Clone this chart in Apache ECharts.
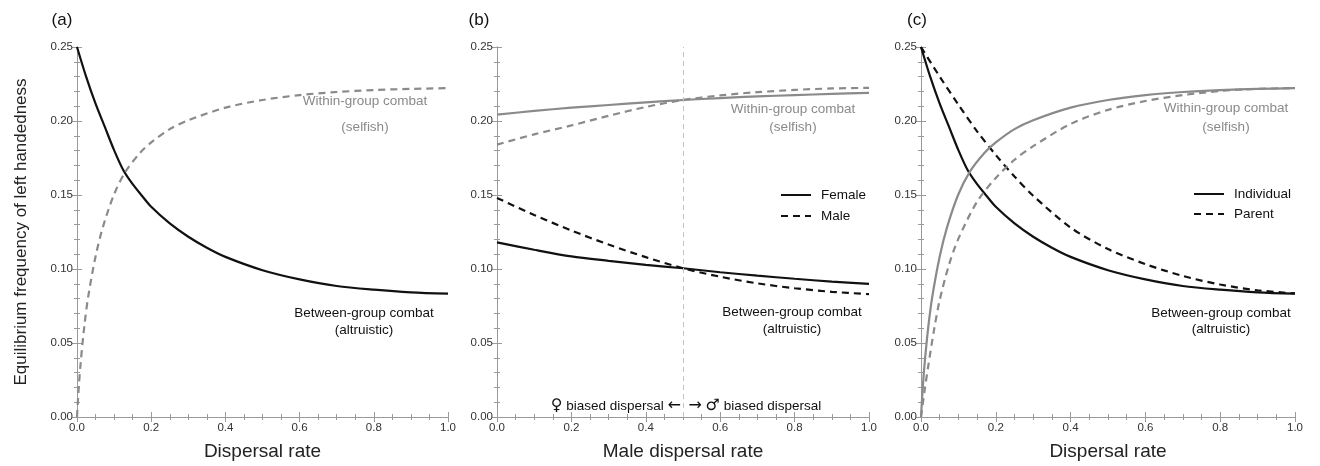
<!DOCTYPE html>
<html>
<head>
<meta charset="utf-8">
<script src="https://cdn.jsdelivr.net/npm/echarts@6/dist/echarts.min.js"></script>
<style>
  html, body { margin: 0; padding: 0; background: #fff; }
  #main { width: 1320px; height: 466px; }
</style>
</head>
<body>
<div id="main"></div>
<script>
// x tick labels / y tick labels
var xTicks = [0, 0.2, 0.4, 0.6, 0.8, 1.0];
var yTicks = [0, 0.05, 0.1, 0.15, 0.2, 0.25];

// panel (a) and (c): individual-level curves
var xsBetweenInd = [0, 0.025, 0.05, 0.075, 0.1, 0.125, 0.15, 0.175, 0.2, 0.25, 0.3, 0.35, 0.4, 0.5, 0.6, 0.7, 0.8, 0.9, 1.0];
var betweenInd = [0.25, 0.2296, 0.2117, 0.196, 0.1803, 0.1667, 0.1573, 0.1495, 0.142, 0.1308, 0.1218, 0.1144, 0.1082, 0.0992, 0.093, 0.0885, 0.086, 0.0842, 0.0833];

var xsWithinInd = [0, 0.005, 0.01, 0.02, 0.03, 0.05, 0.07, 0.1, 0.13, 0.17, 0.2, 0.25, 0.3, 0.4, 0.5, 0.6, 0.7, 0.8, 0.9, 1.0];
var withinInd = [0, 0.021, 0.037, 0.062, 0.081, 0.1085, 0.1285, 0.1505, 0.1655, 0.1785, 0.1855, 0.1945, 0.2005, 0.209, 0.2142, 0.2175, 0.2196, 0.2209, 0.2217, 0.2222];

// panel (c): parent-level curves
var xsBetweenPar = [0, 0.05, 0.1, 0.15, 0.2, 0.25, 0.3, 0.4, 0.5, 0.6, 0.7, 0.8, 0.9, 1.0];
var betweenPar = [0.25, 0.230, 0.211, 0.193, 0.177, 0.1625, 0.1495, 0.128, 0.1135, 0.1033, 0.0953, 0.0895, 0.0856, 0.0835];

var xsWithinPar = [0, 0.01, 0.02, 0.035, 0.05, 0.075, 0.1, 0.15, 0.2, 0.25, 0.3, 0.4, 0.5, 0.6, 0.7, 0.8, 0.9, 1.0];
var withinPar = [0, 0.0185, 0.0355, 0.059, 0.079, 0.103, 0.1205, 0.1455, 0.1615, 0.1738, 0.183, 0.198, 0.2075, 0.2135, 0.2175, 0.2203, 0.2217, 0.2222];

// panel (b): male dispersal rate
var xsMale = [0, 0.1, 0.2, 0.3, 0.4, 0.5, 0.6, 0.7, 0.8, 0.9, 1.0];
var withinFemale = [0.2043, 0.2068, 0.209, 0.2108, 0.2126, 0.2142, 0.2155, 0.2166, 0.2175, 0.2183, 0.219];
var withinMale = [0.184, 0.191, 0.197, 0.2035, 0.2095, 0.2142, 0.2173, 0.2195, 0.221, 0.222, 0.2224];
var betweenFemale = [0.118, 0.113, 0.1085, 0.1055, 0.1028, 0.1005, 0.0978, 0.0955, 0.0934, 0.0915, 0.090];
var betweenMale = [0.148, 0.1365, 0.126, 0.1165, 0.108, 0.1005, 0.0948, 0.0903, 0.087, 0.0846, 0.083];

var BLACK = '#111';
var GREY = '#8a8a8a';
var FRAME = '#9a9a9a';
var FONT = 'Liberation Sans, Arial, sans-serif';
var DASH = [7, 5];

function pairs(xs, ys) {
  return xs.map(function (x, i) { return [x, ys[i]]; });
}

var grids = [
  { left: 77, top: 47, width: 371, height: 372 },
  { left: 497, top: 47, width: 372, height: 372 },
  { left: 921, top: 47, width: 374, height: 372 }
];

var xAxes = [];
var yAxes = [];
var xNames = ['Dispersal rate', 'Male dispersal rate', 'Dispersal rate'];
for (var g = 0; g < 3; g++) {
  xAxes.push({
    type: 'value', gridIndex: g, min: 0, max: 1, interval: 0.2,
    name: xNames[g], nameLocation: 'middle', nameGap: 25,
    nameTextStyle: { fontSize: 19, color: '#222', fontFamily: FONT },
    axisLine: { lineStyle: { color: FRAME } },
    axisTick: { inside: true, length: 5, lineStyle: { color: FRAME } },
    minorTick: { show: true, splitNumber: 4, length: 3, lineStyle: { color: FRAME } },
    splitLine: { show: false },
    axisLabel: { fontSize: 11.5, color: '#333', margin: 5, fontFamily: FONT,
      formatter: function (v) { return v.toFixed(1); } }
  });
  yAxes.push({
    type: 'value', gridIndex: g, min: 0, max: 0.25, interval: 0.05,
    name: g === 0 ? 'Equilibrium frequency of left handedness' : '',
    nameLocation: 'middle', nameGap: 47,
    nameTextStyle: { fontSize: 17, color: '#222', fontFamily: FONT },
    axisLine: { show: true, lineStyle: { color: FRAME } },
    axisTick: { show: true, inside: true, length: 5, lineStyle: { color: FRAME } },
    minorTick: { show: true, splitNumber: 5, length: 3, lineStyle: { color: FRAME } },
    splitLine: { show: false },
    axisLabel: { fontSize: 11.5, color: '#333', margin: 4, fontFamily: FONT,
      formatter: function (v) { return v.toFixed(2); } }
  });
}
// mirrored frame axes (top / right)
for (var h = 0; h < 3; h++) {
  xAxes.push({
    type: 'value', gridIndex: h, position: 'top', min: 0, max: 1, interval: 0.2,
    axisLine: { lineStyle: { color: FRAME } },
    axisTick: { inside: true, length: 5, lineStyle: { color: FRAME } },
    minorTick: { show: true, splitNumber: 4, length: 3, lineStyle: { color: FRAME } },
    splitLine: { show: false }, axisLabel: { show: false }
  });
  yAxes.push({
    type: 'value', gridIndex: h, position: 'right', min: 0, max: 0.25, interval: 0.05,
    axisLine: { show: true, lineStyle: { color: FRAME } },
    axisTick: { show: true, inside: true, length: 5, lineStyle: { color: FRAME } },
    minorTick: { show: true, splitNumber: 5, length: 3, lineStyle: { color: FRAME } },
    splitLine: { show: false }, axisLabel: { show: false }
  });
}

function curve(name, idx, xs, ys, color, dashed, extra) {
  var s = {
    name: name, type: 'line', xAxisIndex: idx, yAxisIndex: idx,
    data: pairs(xs, ys), smooth: 0.3,
    symbol: 'none', showSymbol: false, silent: true,
    lineStyle: { color: color, width: 2.2, type: dashed ? DASH : 'solid' },
    itemStyle: { color: color }
  };
  if (extra) { for (var k in extra) s[k] = extra[k]; }
  return s;
}

var series = [
  // (a)
  curve('Between-group', 0, xsBetweenInd, betweenInd, BLACK, false),
  curve('Within-group', 0, xsWithinInd, withinInd, GREY, true),
  // (b)  black first so the legend takes the black style
  curve('Female', 1, xsMale, betweenFemale, BLACK, false, {
    markLine: {
      silent: true, symbol: 'none', label: { show: false },
      lineStyle: { color: '#c4c4c4', width: 1, type: [5, 4] },
      data: [{ xAxis: 0.5 }]
    }
  }),
  curve('Male', 1, xsMale, betweenMale, BLACK, true),
  curve('Female', 1, xsMale, withinFemale, GREY, false),
  curve('Male', 1, xsMale, withinMale, GREY, true),
  // (c)
  curve('Individual', 2, xsBetweenInd, betweenInd, BLACK, false),
  curve('Parent', 2, xsBetweenPar, betweenPar, BLACK, true),
  curve('Individual', 2, xsWithinInd, withinInd, GREY, false),
  curve('Parent', 2, xsWithinPar, withinPar, GREY, true)
];

function txt(x, y, s, color, size, rich) {
  var st = { text: s, fill: color || '#111', fontSize: size || 13.5, fontFamily: FONT,
    align: 'center', verticalAlign: 'middle' };
  if (rich) st.rich = rich;
  return { type: 'text', x: x, y: y, silent: true, style: st };
}

var symRich = {
  s: { fontSize: 16, fontFamily: 'DejaVu Sans', fill: '#111' }
};

var graphics = [
  txt(62, 20, '(a)', '#111', 17),
  txt(479, 20, '(b)', '#111', 17),
  txt(917, 20, '(c)', '#111', 17),
  txt(365, 101, 'Within-group combat', GREY),
  txt(365, 127, '(selfish)', GREY),
  txt(364, 313, 'Between-group combat', '#111'),
  txt(364, 330, '(altruistic)', '#111'),
  txt(793, 109, 'Within-group combat', GREY),
  txt(793, 127, '(selfish)', GREY),
  txt(792, 312, 'Between-group combat', '#111'),
  txt(792, 329, '(altruistic)', '#111'),
  txt(1226, 108, 'Within-group combat', GREY),
  txt(1226, 127, '(selfish)', GREY),
  txt(1221, 313, 'Between-group combat', '#111'),
  txt(1221, 329, '(altruistic)', '#111'),
  txt(686, 406, '{s|\u2640} biased dispersal {s|\u2190}  {s|\u2192} {s|\u2642} biased dispersal', '#111', 13.5, symRich)
];

var legendBase = {
  orient: 'vertical', itemWidth: 30, itemHeight: 14, selectedMode: false,
  itemStyle: { opacity: 0 },
  textStyle: { fontSize: 13.5, color: '#111', padding: [0, 0, 0, 5] }
};

var chart = echarts.init(document.getElementById('main'), null, { renderer: 'canvas' });
chart.setOption({
  animation: false,
  backgroundColor: '#fff',
  textStyle: { fontFamily: FONT },
  grid: grids,
  xAxis: xAxes,
  yAxis: yAxes,
  legend: [
    Object.assign({}, legendBase, { data: ['Female', 'Male'], left: 775, top: 183, itemGap: 7 }),
    Object.assign({}, legendBase, { data: ['Individual', 'Parent'], left: 1188, top: 182, itemGap: 6 })
  ],
  graphic: graphics,
  series: series
});
</script>
</body>
</html>
